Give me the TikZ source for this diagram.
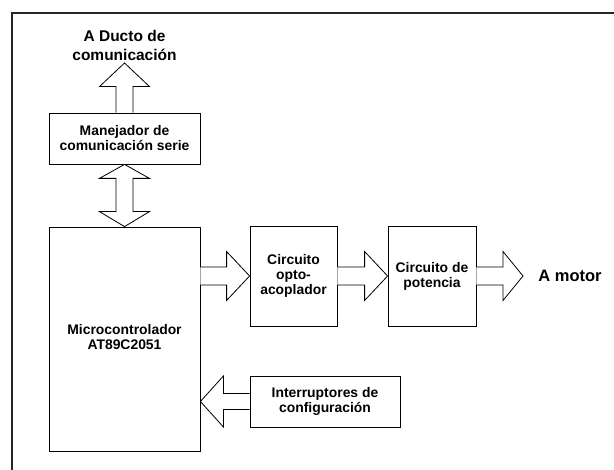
\documentclass[tikz,border=0pt]{standalone}
\usepackage{fontspec}
\setmainfont{Liberation Sans}
\usetikzlibrary{calc}
\tikzset{
  box/.style={draw, line width=0.8pt, align=center, inner sep=0pt,
    font=\bfseries\fontsize{13.9}{15}\selectfont},
  bigtext/.style={align=center, inner sep=0pt, font=\bfseries\fontsize{15.5}{19}\selectfont},
  bus/.style={draw, line width=0.8pt, fill=white, line join=miter},
  frame/.style={line width=2pt, draw=black!85}
}
\begin{document}
\begin{tikzpicture}[x=1pt, y=-1pt]
	\useasboundingbox (0,0) rectangle (614,470);
	\draw[frame] (614,13) -- (12,13) -- (12,470);
	% blocks
	\node[box, minimum width=151, minimum height=51] (man) at (124.5,138.5) {Manejador de\\comunicaci\'on serie};
	\node[box, minimum width=151, minimum height=224] (mcu) at (124.5,339) {\raisebox{-3pt}{\begin{tabular}{@{}c@{}}Microcontrolador\\AT89C2051\end{tabular}}};
	\node[box, minimum width=87, minimum height=100] (opto) at (293.5,276) {Circuito\\opto-\\acoplador};
	\node[box, minimum width=88, minimum height=100] (pot) at (432,276) {Circuito de\\potencia};
	\node[box, minimum width=150, minimum height=51] (sw) at (325,401.5) {Interruptores de\\configuraci\'on};
	\node[bigtext] (ducto) at (124.5,45) {A Ducto de\\comunicaci\'on};
	\node[bigtext, font=\bfseries\fontsize{16.5}{19}\selectfont] (motor) at (570,276) {A motor};
	\coordinate (ductotip) at (124.5,63);
	\coordinate (motortip) at (523,276);
	% bus to the communication line
	\draw[bus] ($(man.north)+(-8.5,0)$) -- ++(0,-26) -- ++(-16.5,0) -- (ductotip)
		-- ($(man.north)+(25,-26)$) -- ++(-16.5,0) -- ($(man.north)+(8.5,0)$);
	% double bus between driver and microcontroller
	\draw[bus] (man.south) -- ++(25,14) -- ++(-16.5,0) -- ($(mcu.north)+(8.5,-15)$) -- ++(16.5,0)
		-- (mcu.north) -- ++(-25,-15) -- ++(16.5,0) -- ($(man.south)+(-8.5,14)$) -- ++(-16.5,0) -- cycle;
	% horizontal buses
	\draw[bus] ($(mcu.east |- opto.west)+(0,-9)$) -- ($(opto.west)+(-23,-9)$) -- ++(0,-15.5)
		-- (opto.west) -- ($(opto.west)+(-23,24.5)$) -- ++(0,-15.5) -- ($(mcu.east |- opto.west)+(0,9)$);
	\draw[bus] ($(opto.east)+(0,-9)$) -- ($(pot.west)+(-23,-9)$) -- ++(0,-15.5)
		-- (pot.west) -- ($(pot.west)+(-23,24.5)$) -- ++(0,-15.5) -- ($(opto.east)+(0,9)$);
	\draw[bus] ($(pot.east)+(0,-9)$) -- ($(motortip)+(-20,-9)$) -- ++(0,-15.5)
		-- (motortip) -- ($(motortip)+(-20,24.5)$) -- ++(0,-15.5) -- ($(pot.east)+(0,9)$);
	\draw[bus] ($(sw.west)+(0,-8)$) -- ($(mcu.east |- sw.west)+(23,-8)$) -- ++(0,-17.5)
		-- (mcu.east |- sw.west) -- ($(mcu.east |- sw.west)+(23,25.5)$) -- ++(0,-17.5) -- ($(sw.west)+(0,8)$);
\end{tikzpicture}
\end{document}
